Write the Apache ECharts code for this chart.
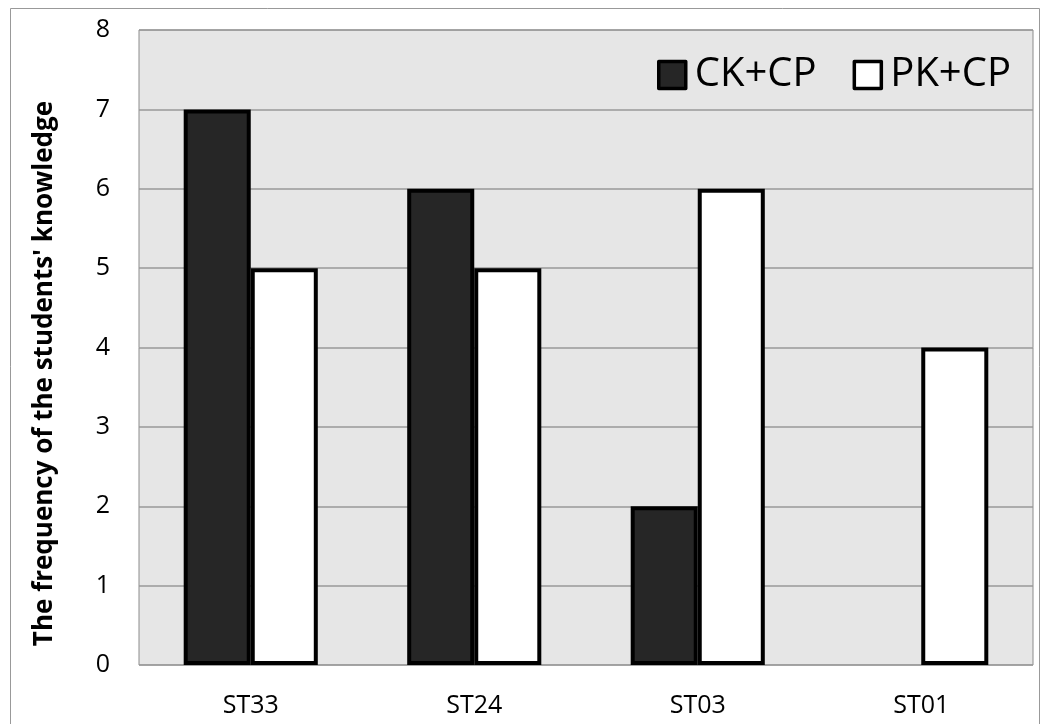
<!DOCTYPE html>
<html><head><meta charset="utf-8">
<script src="https://cdn.jsdelivr.net/npm/echarts@6/dist/echarts.min.js"></script>
<style>html,body{margin:0;padding:0;background:#fff}#c{width:1042px;height:724px}</style>
</head><body><div id="c"></div>
<script>
const categories = ['ST33', 'ST24', 'ST03', 'ST01'];
const ckcp = [7, 6, 2, 0];
const pkcp = [5, 5, 6, 4];
const seriesNames = ['CK+CP', 'PK+CP'];
const yTicks = [0, 1, 2, 3, 4, 5, 6, 7, 8];

const chart = echarts.init(document.getElementById('c'), null, {renderer: 'canvas'});
const font = '"Open Sans", "Noto Sans", sans-serif';
chart.setOption({
  animation: false,
  backgroundColor: '#fff',
  graphic: [{
    type: 'rect', left: 8, top: 6, shape: {width: 1029, height: 740},
    style: {fill: 'none', stroke: '#999', lineWidth: 1}, z: -1
  }],
  grid: {left: 139, right: 9, top: 30, bottom: 59, show: true,
    backgroundColor: '#e6e6e6', borderColor: '#8c8c8c', borderWidth: 1},
  legend: {
    top: 50, right: 26, itemWidth: 27, itemHeight: 27, itemGap: 36,
    icon: 'rect',
    textStyle: {fontSize: 40, fontFamily: font, color: '#000', padding: [0,0,0,4]},
    itemStyle: {borderColor: '#000', borderWidth: 3.5, borderJoin: 'round'},
    data: seriesNames
  },
  xAxis: {
    type: 'category', data: categories,
    axisLine: {show: false}, axisTick: {show: false},
    axisLabel: {fontSize: 25, fontFamily: font, color: '#000', margin: 28}
  },
  yAxis: {
    type: 'value', min: yTicks[0], max: yTicks[yTicks.length - 1], interval: 1,
    name: "The frequency of the students' knowledge",
    nameLocation: 'middle', nameGap: 81,
    nameTextStyle: {fontSize: 26, fontWeight: 'bold', fontFamily: font, color: '#000', padding: [0, 52, 0, 0]},
    axisLine: {show: false}, axisTick: {show: false},
    axisLabel: {fontSize: 25, fontFamily: font, color: '#000', margin: 29},
    splitLine: {lineStyle: {color: '#999', width: 1.5}}
  },
  series: [
    {name: seriesNames[0], type: 'bar', data: ckcp.map(v => v === 0 ? '-' : v),
     barGap: '0%', barCategoryGap: '40%',
     itemStyle: {color: '#262626', borderColor: '#000', borderWidth: 4}},
    {name: seriesNames[1], type: 'bar', data: pkcp,
     itemStyle: {color: '#ffffff', borderColor: '#000', borderWidth: 4}}
  ]
});
</script></body></html>
